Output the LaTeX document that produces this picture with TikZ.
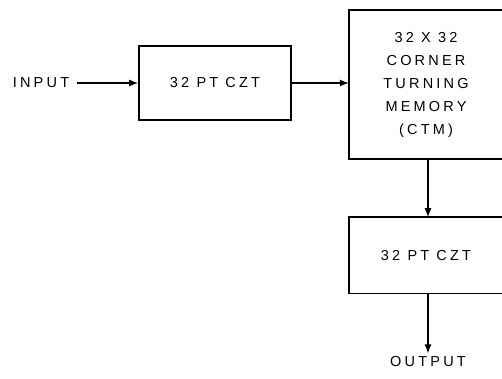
\documentclass[tikz,border=0pt]{standalone}
\usepackage{fontspec}
\setmainfont{Liberation Sans}[LetterSpace=22]
\usetikzlibrary{arrows.meta,positioning}

\begin{document}
\begin{tikzpicture}[
    x=1pt, y=-1pt,
    node distance=57pt,
    txt/.style={font=\fontsize{14.5}{23}\selectfont, align=center},
    box/.style={rectangle, draw, line width=1.6pt, txt, minimum width=152pt, minimum height=74pt},
    openbox/.style={rectangle, txt, inner sep=0pt, minimum width=154pt},
    side/.style={line width=1.6pt},
    flow/.style={-{Latex[length=9pt,width=7pt]}, line width=1.2pt}
]
    \useasboundingbox (0,0) rectangle (502,379);

    % Input path
    \node[txt] (input) at (41,83) {INPUT};
    \node[box] (czt_a) at (215,83) {32 PT CZT};

    % Corner turning memory, open at the right
    \node[openbox, minimum height=149pt, right=of czt_a, yshift=-1.5pt] (ctm) {32 X 32\\CORNER\\TURNING\\MEMORY\\(CTM)};
    \draw[side] (ctm.north east) -- (ctm.north west) -- (ctm.south west) -- (ctm.south east);

    % Second transform
    \node[openbox, minimum height=76pt, below=58pt of ctm] (czt_b) {32 PT CZT};
    \draw[side] (czt_b.north east) -- (czt_b.north west) -- (czt_b.south west) -- (czt_b.south east);

    % Output
    \node[txt] (output) at (428,362) {OUTPUT};

    % Connections
    \draw[flow, shorten <=4pt] (input) -- (czt_a);
    \draw[flow] (czt_a.east) -- (czt_a.east -| ctm.west);
    \draw[flow] (ctm.south) ++(2pt,0) coordinate (down) -- (down |- czt_b.north);
    \draw[flow] (czt_b.south -| down) -- (down |- output.north);
\end{tikzpicture}
\end{document}
